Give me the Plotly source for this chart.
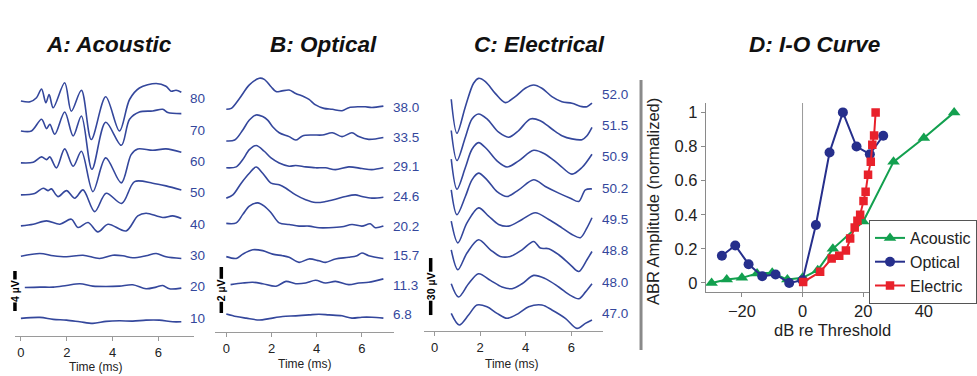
import plotly.graph_objects as go

W, H = 977, 376

# ---------------- data ----------------
# Panel A: acoustic ABR waveforms (time ms, amplitude uV relative to trace baseline)
A_LEVELS = ["80", "70", "60", "50", "40", "30", "20", "10"]
A_80 = [(0.0, -0.2), (0.4, -0.28), (0.68, 0.12), (0.9, 1.0), (1.09, -0.38), (1.23, 0.45), (1.41, -0.88),
        (1.91, 1.62), (2.2, -1.22), (2.64, 0.88), (3.07, -4.05), (3.7, 0.22), (4.3, -3.2), (4.74, -0.05),
        (5.17, 1.1), (5.9, 1.55), (6.33, 1.28), (6.55, 0.78), (6.77, 0.88), (7.0, 0.68)]
A_70 = [(0.0, -0.07), (0.46, -0.07), (0.9, 1.1), (1.12, 0.17), (1.26, 0.6), (1.48, -0.4), (1.91, 1.83),
        (2.28, -0.57), (2.64, 1.43), (3.1, -3.9), (3.7, 0.8), (4.38, -1.5), (4.74, 1.1), (5.17, 1.83),
        (5.75, 1.93), (6.19, 2.1), (6.41, 1.77), (7.0, 1.67)]
A_60 = [(0.0, -0.13), (0.54, -0.07), (0.9, 0.47), (1.12, 0.2), (1.26, 0.47), (1.55, -0.63), (1.91, 1.27),
        (2.28, -0.47), (2.64, 1.03), (3.14, -3.0), (3.7, 0.37), (4.38, -2.13), (4.81, 0.7), (5.1, 1.27),
        (5.75, 1.13), (6.33, 1.27), (7.0, 0.93)]
A_50 = [(0.0, -0.2), (0.6, -0.05), (0.97, 0.47), (1.19, 0.23), (1.33, 0.4), (1.62, -0.37), (1.99, 0.23),
        (2.35, -0.53), (2.71, 0.3), (3.22, -1.87), (3.72, -0.03), (4.4, -1.05), (4.96, 1.13), (5.75, 0.97),
        (6.33, 0.7), (7.0, 0.3)]
A_40 = [(0.0, -0.17), (0.54, 0.0), (1.12, 0.33), (1.7, 0.0), (2.2, 0.5), (2.49, -0.33), (2.93, 0.17),
        (3.36, -0.77), (3.8, 0.0), (4.59, -0.67), (5.1, 0.83), (5.46, 1.1), (6.19, 0.67), (6.62, 0.83),
        (7.0, 0.57)]
A_30 = [(0.0, -0.07), (0.83, 0.2), (1.41, -0.03), (1.99, -0.13), (2.71, 0.03), (3.43, -0.3), (4.01, 0.03),
        (4.45, -0.03), (4.88, -0.23), (5.46, -0.03), (5.9, 0.2), (6.33, -0.13), (7.0, -0.3)]
A_20 = [(0.17, -0.07), (0.83, -0.03), (1.41, -0.03), (1.99, 0.13), (2.57, 0.3), (3.14, 0.07), (3.72, 0.03),
        (4.3, 0.07), (4.88, 0.2), (5.46, -0.2), (5.9, -0.03), (6.19, 0.13), (6.48, -0.2), (7.0, -0.13)]
A_10 = [(0.0, -0.03), (0.83, 0.07), (1.41, -0.13), (1.99, -0.2), (2.57, -0.37), (3.14, -0.53), (3.72, -0.33),
        (4.3, -0.27), (4.88, -0.3), (5.46, -0.2), (6.04, -0.2), (6.62, -0.37), (7.0, -0.37)]
A_TRACES = [A_80, A_70, A_60, A_50, A_40, A_30, A_20, A_10]

# Panel B: optical ABR waveforms
B_LEVELS = ["38.0", "33.5", "29.1", "24.6", "20.2", "15.7", "11.3", "6.8"]
B_380 = [(0.0, -0.07), (0.22, -0.03), (0.59, 0.41), (1.02, 0.99), (1.46, 1.28), (1.68, 1.23), (1.98, 0.91),
         (2.2, 0.7), (2.42, 0.72), (2.78, 0.77), (3.07, 0.62), (3.44, 0.48), (3.66, 0.36), (3.95, 0.12),
         (4.32, -0.03), (4.69, -0.07), (5.12, -0.13), (5.42, 0.0), (5.86, 0.04), (6.15, 0.04), (6.44, 0.01),
         (6.95, 0.07)]
B_335 = [(0.0, -0.16), (0.37, -0.12), (0.73, 0.32), (1.02, 0.75), (1.32, 0.97), (1.61, 0.9), (1.83, 0.75),
         (2.05, 0.46), (2.34, 0.2), (2.78, 0.03), (3.07, -0.12), (3.37, 0.06), (3.81, 0.1), (4.25, 0.1),
         (4.69, 0.2), (5.12, 0.03), (5.56, 0.2), (5.86, 0.03), (6.3, -0.09), (6.95, -0.01)]
B_291 = [(0.0, -0.04), (0.44, 0.0), (0.73, 0.32), (1.02, 0.75), (1.32, 0.93), (1.68, 0.68), (1.98, 0.39),
         (2.34, 0.17), (2.78, 0.03), (3.07, 0.06), (3.51, 0.0), (3.95, -0.04), (4.39, -0.04), (4.83, -0.12),
         (5.42, 0.0), (6.0, -0.07), (6.44, -0.12), (6.95, -0.04)]
B_246 = [(0.0, -0.07), (0.29, 0.07), (0.66, 0.58), (1.02, 1.01), (1.32, 1.28), (1.61, 1.01), (1.98, 0.58),
         (2.34, 0.51), (2.64, 0.36), (3.07, 0.07), (3.51, -0.14), (3.95, -0.26), (4.39, -0.22), (4.83, -0.12),
         (5.27, 0.0), (5.71, 0.07), (6.0, 0.0), (6.44, -0.07), (6.95, -0.03)]
B_202 = [(0.0, 0.12), (0.44, 0.14), (0.73, 0.51), (1.02, 0.87), (1.39, 1.01), (1.68, 0.87), (1.98, 0.58),
         (2.34, 0.14), (2.78, 0.07), (3.22, 0.0), (3.66, 0.0), (4.1, -0.07), (4.54, -0.07), (5.12, -0.03),
         (5.56, 0.07), (6.0, 0.0), (6.37, 0.1), (6.59, -0.07), (6.95, 0.0)]
B_157 = [(0.0, -0.04), (0.44, -0.12), (0.73, 0.07), (1.17, 0.26), (1.61, 0.22), (2.05, 0.07), (2.49, 0.0),
         (2.78, -0.07), (3.22, -0.29), (3.66, -0.14), (4.1, -0.22), (4.39, -0.29), (4.83, -0.14), (5.42, -0.07),
         (5.78, 0.0), (6.0, 0.12), (6.3, 0.0), (6.95, -0.12)]
B_113 = [(0.19, 0.03), (0.73, 0.1), (1.17, 0.13), (1.61, 0.07), (2.2, -0.04), (2.64, 0.17), (3.07, 0.07),
         (3.51, 0.1), (3.95, 0.22), (4.39, 0.1), (4.83, 0.17), (5.42, 0.03), (5.86, 0.1), (6.3, 0.13),
         (6.95, 0.28)]
B_68 = [(0.0, 0.04), (0.44, -0.07), (0.88, -0.14), (1.46, -0.22), (1.9, -0.16), (2.49, -0.07), (3.07, -0.04),
        (3.66, 0.0), (4.1, 0.03), (4.54, 0.0), (5.12, -0.04), (5.56, -0.14), (6.0, -0.1), (6.44, -0.1),
        (6.95, -0.14)]
B_TRACES = [B_380, B_335, B_291, B_246, B_202, B_157, B_113, B_68]

# Panel C: electrical ABR waveforms
C_LEVELS = ["52.0", "51.5", "50.9", "50.2", "49.5", "48.8", "48.0", "47.0"]
C_520 = [(0.73, -2.6), (0.98, -20.5), (1.35, -6.5), (1.71, 5.8), (1.93, 8.4), (2.23, 6.7), (2.66, 0.5),
         (3.1, -4.4), (3.54, -1.2), (3.98, 3.2), (4.35, 4.9), (4.71, 3.2), (5.15, -1.2), (5.59, -3.9),
         (6.03, -4.7), (6.47, -6.5), (6.69, -6.5), (6.91, -4.7)]
C_515 = [(0.73, -2.6), (0.98, -18.4), (1.35, -6.1), (1.64, 3.5), (1.93, 6.1), (2.3, 3.5), (2.81, -3.5),
         (3.25, -6.1), (3.69, -2.6), (4.2, 3.5), (4.64, 2.6), (5.15, -1.8), (5.59, -5.3), (6.03, -7.0),
         (6.47, -7.4), (6.69, -5.3), (6.91, -0.9)]
C_509 = [(0.73, -1.2), (0.98, -17.0), (1.35, -5.6), (1.64, 4.0), (1.93, 7.5), (2.3, 4.0), (2.74, -2.1),
         (3.18, -5.3), (3.69, -2.1), (4.35, 3.5), (4.86, 1.4), (5.45, -3.9), (6.03, -9.1), (6.47, -5.6),
         (6.91, 1.4)]
C_502 = [(0.73, -0.9), (0.98, -14.0), (1.35, -4.4), (1.64, 4.4), (1.93, 7.9), (2.3, 4.4), (2.74, -1.8),
         (3.18, -4.4), (3.69, -0.9), (4.35, 4.4), (4.86, 0.9), (5.45, -2.6), (5.96, -5.3), (6.33, -7.0),
         (6.62, -0.9), (6.91, -0.4)]
C_495 = [(0.73, -0.9), (1.02, -12.3), (1.42, -1.8), (1.93, 6.1), (2.37, 1.8), (2.81, -2.6), (3.25, -3.5),
         (3.84, 0.0), (4.42, 3.5), (5.01, 0.0), (5.59, -4.4), (6.03, -7.9), (6.4, -9.6), (6.69, -4.4),
         (6.91, 0.9)]
C_488 = [(0.73, 0.5), (1.02, -10.0), (1.42, -1.2), (1.93, 5.8), (2.45, 0.5), (2.88, -3.0), (3.32, -3.0),
         (3.84, 0.5), (4.35, 4.9), (4.64, 1.4), (5.01, 1.1), (5.45, -2.1), (5.96, -7.4), (6.33, -10.9),
         (6.69, -4.7), (6.91, -0.4)]
C_480 = [(0.73, -0.9), (1.05, -7.9), (1.49, -0.9), (1.93, 4.4), (2.45, 0.9), (2.96, -2.6), (3.4, -3.5),
         (3.84, -0.9), (4.35, 3.5), (4.86, 1.8), (5.45, -2.6), (5.96, -7.0), (6.33, -8.8), (6.62, -5.3),
         (6.91, -0.9)]
C_470 = [(0.73, 0.0), (1.08, -6.1), (1.49, -0.9), (1.86, 4.4), (2.3, 3.5), (2.74, 0.0), (3.18, -2.6),
         (3.69, 0.0), (4.13, 3.5), (4.71, 4.4), (5.15, 1.8), (5.74, -2.6), (6.25, -7.9), (6.62, -5.3),
         (6.91, -3.5)]
C_TRACES = [C_520, C_515, C_509, C_502, C_495, C_488, C_480, C_470]

# Scale bars (uV)
A_BAR_UV, B_BAR_UV, C_BAR_UV = 4, 2, 30

# Panel D: I-O curves
D_ACOUSTIC_X = [-30, -25, -20, -15, -10, -5, 0, 5, 10, 20, 30, 40, 50]
D_ACOUSTIC_Y = [0.0, 0.02, 0.03, 0.055, 0.06, 0.02, 0.03, 0.075, 0.2, 0.36, 0.71, 0.85, 1.0]
D_OPTICAL_X = [-26.6, -22.2, -17.8, -13.3, -8.9, -4.4, 0.0, 4.4, 8.9, 13.3, 17.8, 22.2, 26.6]
D_OPTICAL_Y = [0.16, 0.22, 0.11, 0.04, 0.05, 0.0, 0.016, 0.34, 0.765, 1.0, 0.8, 0.755, 0.863]
D_ELECTRIC_X = [0.2, 5.8, 9.6, 12.1, 14.3, 15.7, 17.2, 18.1, 19.0, 20.1, 20.8, 21.6, 22.5, 23.0, 23.6, 24.1]
D_ELECTRIC_Y = [0.005, 0.065, 0.143, 0.16, 0.19, 0.26, 0.325, 0.365, 0.40, 0.48, 0.535, 0.635, 0.71, 0.81,
                0.865, 1.0]
D_TICKS_X = [-20, 0, 20, 40]
D_TICKS_Y = [0, 0.2, 0.4, 0.6, 0.8, 1]
D_TICKTEXT_Y = ["0", "0.2", "0.4", "0.6", "0.8", "1"]
TIME_TICKS = [0, 2, 4, 6]

# ---------------- styling / layout ----------------
WAVE = "#34479c"
FONT = "Arial, Liberation Sans, sans-serif"
TITLE_FONT = "Arial, Liberation Sans, sans-serif"


def px(x):
    return x / W


def py(y):
    return 1 - y / H


PANELS = {
    "A": dict(dom=(15, 195), ybot=336, xr=(-0.26, 7.57), yr=(0, 27.6), base0=23.7, step=3.13,
              bar_x=15, bar_y0=2.5, bar=A_BAR_UV, bar_txt="4 µV", ttl=(96, 367)),
    "B": dict(dom=(216, 395), ybot=332, xr=(-0.485, 7.41), yr=(0, 11.826), base0=9.752, step=1.287,
              bar_x=222, bar_y0=0.826, bar=B_BAR_UV, bar_txt="2 µV", ttl=(306, 364)),
    "C": dict(dom=(425, 605), ybot=331, xr=(-0.48, 7.4), yr=(0, 142.63), base0=124.58, step=16.47,
              bar_x=432, bar_y0=8.4, bar=C_BAR_UV, bar_txt="30 µV", ttl=(514, 364)),
}

fig = go.Figure()
annotations = []
shapes = []

panel_data = [("A", A_TRACES, A_LEVELS, ""), ("B", B_TRACES, B_LEVELS, "2"), ("C", C_TRACES, C_LEVELS, "3")]
for key, traces, levels, ax in panel_data:
    P = PANELS[key]
    xa, ya = "x" + ax, "y" + ax
    for k, (tr, lab) in enumerate(zip(traces, levels)):
        base = P["base0"] - k * P["step"]
        fig.add_trace(go.Scatter(
            x=[p[0] for p in tr], y=[base + p[1] for p in tr], mode="lines",
            line=dict(color=WAVE, width=1.6, shape="spline", smoothing=0.9),
            xaxis=xa, yaxis=ya, showlegend=False, hoverinfo="skip"))
        annotations.append(dict(x=7.28, y=base, xref=xa, yref=ya, text=lab, showarrow=False,
                                xanchor="left", yanchor="middle",
                                font=dict(family=FONT, size=13.5, color=WAVE)))
    # scale bar
    y0, y1 = P["bar_y0"], P["bar_y0"] + P["bar"]
    shapes.append(dict(type="line", xref="paper", yref=ya, x0=px(P["bar_x"]), x1=px(P["bar_x"]),
                       y0=y0, y1=y1, line=dict(color="black", width=3.5)))
    annotations.append(dict(x=px(P["bar_x"]), y=(y0 + y1) / 2, xref="paper", yref=ya, text=P["bar_txt"],
                            showarrow=False, textangle=-90, bgcolor="white", borderpad=0,
                            xanchor="center", yanchor="middle",
                            font=dict(family=FONT, size=10.5, color="black", weight="bold")))
    # axis title
    annotations.append(dict(x=px(P["ttl"][0]), y=py(P["ttl"][1]), xref="paper", yref="paper",
                            text="Time (ms)", showarrow=False, xanchor="center", yanchor="middle",
                            font=dict(family=FONT, size=12, color="#222")))

# Panel D traces
fig.add_trace(go.Scatter(x=D_ACOUSTIC_X, y=D_ACOUSTIC_Y, mode="lines+markers", name="Acoustic",
                         line=dict(color="#13a04f", width=2),
                         marker=dict(symbol="triangle-up", size=11, color="#13a04f"),
                         xaxis="x4", yaxis="y4"))
fig.add_trace(go.Scatter(x=D_OPTICAL_X, y=D_OPTICAL_Y, mode="lines+markers", name="Optical",
                         line=dict(color="#262f8c", width=2),
                         marker=dict(symbol="circle", size=10, color="#262f8c"),
                         xaxis="x4", yaxis="y4"))
fig.add_trace(go.Scatter(x=D_ELECTRIC_X, y=D_ELECTRIC_Y, mode="lines+markers", name="Electric",
                         line=dict(color="#e8212b", width=2),
                         marker=dict(symbol="square", size=8.5, color="#e8212b"),
                         xaxis="x4", yaxis="y4"))

shapes.append(dict(type="line", xref="x4", yref="y4", x0=0, x1=0, y0=-0.053, y1=1.055,
                   line=dict(color="#999", width=1), layer="below"))
# separator
shapes.append(dict(type="line", xref="paper", yref="paper", x0=px(643), x1=px(643), y0=py(350), y1=py(80),
                   line=dict(color="#8a8a8a", width=3)))

annotations.append(dict(x=px(655), y=py(201), xref="paper", yref="paper", text="ABR Amplitude (normalized)",
                        showarrow=False, textangle=-90, xanchor="center", yanchor="middle",
                        font=dict(family=FONT, size=16.5, color="#222")))
annotations.append(dict(x=px(835), y=py(330), xref="paper", yref="paper", text="dB re Threshold",
                        showarrow=False, xanchor="center", yanchor="middle",
                        font=dict(family=FONT, size=16.5, color="#222")))

# panel titles
for txt, cx in [("A: Acoustic", 109), ("B: Optical", 324), ("C: Electrical", 541), ("D: I-O Curve", 817)]:
    annotations.append(dict(x=px(cx), y=py(45), xref="paper", yref="paper", text=txt, showarrow=False,
                            xanchor="center", yanchor="middle",
                            font=dict(family=TITLE_FONT, size=22.5, color="#111", weight="bold",
                                      style="italic")))

time_axis = dict(showline=True, linecolor="#9a9a9a", linewidth=1, ticks="outside", ticklen=4,
                 tickcolor="#9a9a9a", tickvals=TIME_TICKS, showgrid=False, zeroline=False,
                 tickfont=dict(family=FONT, size=13, color="#222"), fixedrange=True)
hidden_y = dict(visible=False, showgrid=False, zeroline=False, fixedrange=True)

layout = dict(
    width=W, height=H, margin=dict(l=0, r=0, t=0, b=0), paper_bgcolor="white", plot_bgcolor="white",
    showlegend=True,
    legend=dict(x=px(872), y=py(220), xanchor="left", yanchor="top", bgcolor="white",
                bordercolor="#555", borderwidth=1, font=dict(family=FONT, size=16, color="#222"),
                tracegroupgap=0, itemwidth=30),
    annotations=annotations, shapes=shapes,
)
for key, ax in [("A", ""), ("B", "2"), ("C", "3")]:
    P = PANELS[key]
    layout["xaxis" + ax] = dict(time_axis, domain=[px(P["dom"][0]), px(P["dom"][1])], range=list(P["xr"]),
                                anchor="y" + ax)
    layout["yaxis" + ax] = dict(hidden_y, domain=[py(P["ybot"]), py(60)], range=list(P["yr"]),
                                anchor="x" + ax)

layout["xaxis4"] = dict(domain=[px(708), px(965)], range=[-31.9, 52.6], anchor="y4", showline=True,
                        linecolor="#8a8a8a", ticks="outside", ticklen=4, tickcolor="#8a8a8a",
                        tickvals=D_TICKS_X, showgrid=False, zeroline=False,
                        tickfont=dict(family=FONT, size=16.5, color="#222"))
layout["yaxis4"] = dict(domain=[py(292), py(103)], range=[-0.053, 1.055], anchor="x4", showline=True,
                        linecolor="#8a8a8a", ticks="outside", ticklen=4, tickcolor="#8a8a8a",
                        tickvals=D_TICKS_Y, ticktext=D_TICKTEXT_Y, showgrid=False, zeroline=False,
                        tickfont=dict(family=FONT, size=16.5, color="#222"))

fig.update_layout(**layout)
fig.write_html("out.html", config={"displayModeBar": False},
               post_script="document.body.style.margin='0';document.body.style.padding='0';")
